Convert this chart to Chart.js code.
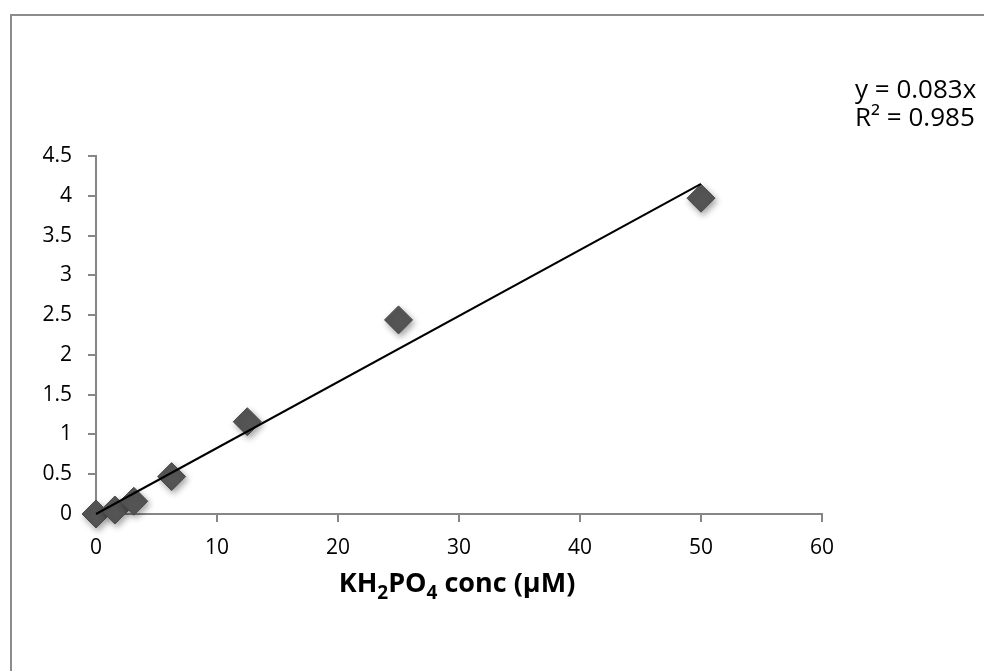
<!DOCTYPE html>
<html>
<head>
<meta charset="utf-8">
<script src="https://cdn.jsdelivr.net/npm/chart.js@4/dist/chart.umd.min.js"></script>
<style>
  html, body { margin: 0; padding: 0; background: #fff; overflow: hidden; }
  canvas { display: block; }
</style>
</head>
<body>
<canvas id="chart" width="984" height="671"></canvas>
<script>
// values
const concX = [0, 1.5625, 3.125, 6.25, 12.5, 25, 50];
const absY = [0, 0.05, 0.16, 0.47, 1.16, 2.44, 3.97];
const trendX = [0, 50];
const trendY = [0, 4.15];
const xTicks = [0, 10, 20, 30, 40, 50, 60];
const yTicks = [0, 0.5, 1, 1.5, 2, 2.5, 3, 3.5, 4, 4.5];
const equationLines = ['y = 0.083x', 'R\u00B2 = 0.985'];
// axis title pieces: [text, isSubscript]
const xTitleParts = [['KH', false], ['2', true], ['PO', false], ['4', true], [' conc (\u00B5M)', false]];

const FONT = '"Open Sans", sans-serif';
const AXIS = '#868686';

const points = concX.map((x, i) => ({ x: x, y: absY[i] }));
const trend = trendX.map((x, i) => ({ x: x, y: trendY[i] }));

const frame = {
    id: 'frame',
    beforeDraw(chart) {
        const ctx = chart.ctx;
        ctx.save();
        ctx.fillStyle = '#fff';
        ctx.fillRect(0, 0, chart.width, chart.height);
        ctx.strokeStyle = '#8c8c8c';
        ctx.lineWidth = 2;
        ctx.strokeRect(11, 15, 2000, 2000);
        ctx.restore();
    }
};

// soft shadow under the diamonds
const markerShadow = {
    id: 'markerShadow',
    beforeDatasetDraw(chart, args) {
        if (args.index !== 1) return;
        const ctx = chart.ctx;
        ctx.save();
        ctx.shadowColor = 'rgba(0,0,0,0.35)';
        ctx.shadowBlur = 6;
        ctx.shadowOffsetX = 2;
        ctx.shadowOffsetY = 3;
    },
    afterDatasetDraw(chart, args) {
        if (args.index !== 1) return;
        chart.ctx.restore();
    }
};

const extraText = {
    id: 'extraText',
    afterDraw(chart) {
        const ctx = chart.ctx;
        ctx.save();
        ctx.fillStyle = '#000';
        ctx.textBaseline = 'middle';
        ctx.textAlign = 'left';
        ctx.font = '26px ' + FONT;
        equationLines.forEach((t, i) => ctx.fillText(t, 855, 91 + i * 28));

        // x axis title with real subscripts
        const big = 'bold 27px ' + FONT;
        const small = 'bold 19px ' + FONT;
        let total = 0;
        xTitleParts.forEach(([t, sub]) => {
            ctx.font = sub ? small : big;
            total += ctx.measureText(t).width;
        });
        let x = 457 - total / 2;
        const y = 592;
        ctx.textBaseline = 'alphabetic';
        xTitleParts.forEach(([t, sub]) => {
            ctx.font = sub ? small : big;
            ctx.fillText(t, x, sub ? y + 7 : y);
            x += ctx.measureText(t).width;
        });
        ctx.restore();
    }
};

new Chart(document.getElementById('chart').getContext('2d'), {
    type: 'scatter',
    data: {
        datasets: [
            {
                type: 'line',
                data: trend,
                borderColor: '#000',
                borderWidth: 2,
                pointRadius: 0,
                fill: false,
                tension: 0,
                clip: false
            },
            {
                data: points,
                pointStyle: 'rectRot',
                pointRadius: 14,
                pointHoverRadius: 14,
                backgroundColor: '#555555',
                borderColor: '#4a4a4a',
                borderWidth: 1,
                clip: false
            }
        ]
    },
    options: {
        responsive: false,
        animation: false,
        events: [],
        layout: { padding: { left: 0, right: 162, top: 156, bottom: 57 } },
        plugins: {
            legend: { display: false },
            tooltip: { enabled: false }
        },
        scales: {
            x: {
                type: 'linear',
                min: 0,
                max: 60,
                afterBuildTicks: (s) => { s.ticks = xTicks.map(v => ({ value: v })); },
                afterFit: (s) => { s.height = 100; },
                ticks: { color: '#000', font: { family: FONT, size: 21 }, padding: 13, callback: (v) => String(v) },
                grid: { display: true, drawOnChartArea: false, color: AXIS, tickLength: 8, lineWidth: 2 },
                border: { color: AXIS, width: 2 }
            },
            y: {
                type: 'linear',
                min: 0,
                max: 4.5,
                afterBuildTicks: (s) => { s.ticks = yTicks.map(v => ({ value: v })); },
                afterFit: (s) => { s.width = 96; },
                ticks: { color: '#000', font: { family: FONT, size: 21 }, padding: 16, callback: (v) => String(v) },
                grid: { display: true, drawOnChartArea: false, color: AXIS, tickLength: 8, lineWidth: 2 },
                border: { color: AXIS, width: 2 }
            }
        }
    },
    plugins: [frame, markerShadow, extraText]
});
</script>
</body>
</html>
